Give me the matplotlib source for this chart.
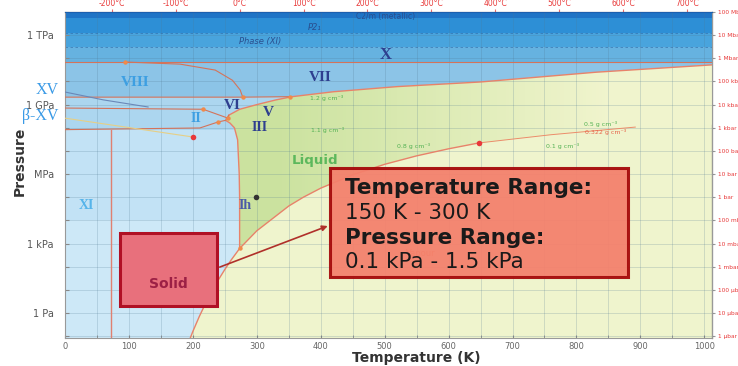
import numpy as np
import matplotlib.pyplot as plt
import matplotlib.colors as mcolors
from matplotlib.patches import Polygon, Rectangle
from matplotlib.ticker import FixedLocator, FuncFormatter, NullLocator

# phase boundaries of water, T in K, P in Pa
sub_T = [190, 200, 210, 220, 230, 240, 250, 260, 273.16]
sub_P = [0.032, 0.16, 0.70, 2.66, 8.97, 27.3, 76.0, 196, 611.7]

vap_T = [273.16, 300, 350, 373.15, 400, 450, 500, 550, 600, 647.1]
vap_P = [611.7, 3.54e3, 4.17e4, 1.013e5, 2.46e5, 9.32e5, 2.64e6, 6.12e6, 1.235e7, 2.206e7]

melt_T = [273.16, 273.1, 272.5, 270, 265, 258, 251.2, 256.2, 273.3, 300, 330, 355,
          420, 520, 650, 830, 1012]
melt_P = [611.7, 1e5, 1e6, 3e7, 1e8, 1.6e8, 2.09e8, 3.5e8, 6.3e8, 1.0e9, 1.6e9, 2.2e9,
          3.6e9, 6.0e9, 9.5e9, 2.5e10, 5.2e10]

# critical isochore (0.322 g/cm3)
iso_T = [647.1, 760, 892]
iso_P = [2.206e7, 5.0e7, 1.07e8]

# solid-solid boundaries
x_T, x_P = [0, 1012], [7e10, 7e10]
viii_vii_T = [94, 180, 235, 262, 274, 278]
viii_vii_P = [6.9e10, 5.6e10, 3.1e10, 1.12e10, 4.3e9, 2.1e9]
vi_viii_T, vi_viii_P = [0, 278, 352], [2.1e9, 2.1e9, 2.2e9]
ii_vi_T, ii_vi_P = [0, 216, 255, 256.2], [7.1e8, 6.3e8, 2.6e8, 3.5e8]
ih_ii_T, ih_ii_P = [0, 211, 240, 251.2], [8.3e7, 9.8e7, 1.8e8, 2.09e8]
meta_T, meta_P = [0, 200], [2.6e8, 4.0e7]
xv_T, xv_P = [0, 60, 130], [3.5e9, 1.6e9, 7.9e8]
xi_T, xi_P = [72, 72], [1e-2, 8.3e7]
top_lines_P = [10**11.5, 10**12.1]

# special points
tp_T = [94, 278, 352, 216, 240, 255, 273.16]
tp_P = [7e10, 2.1e9, 2.2e9, 6.3e8, 1.8e8, 2.6e8, 611.7]
red_T, red_P = [200, 647.1], [4.0e7, 2.206e7]
amb_T, amb_P = [298.15], [101325]

# colour bands of the solid region (Pa)
band_P = [1e4, 10**7.9, 10**9.32, 10**10.84, 10**11.5, 10**12.1, 10**12.75, 1e14]
band_colors = ['#c2e2f5', '#acd6ef', '#8cc4e7', '#66b2e0', '#49a4dd', '#2d8fd6', '#1f74c6']

# axis labels
ylab = {0: '1 Pa', 3: '1 kPa', 6: 'MPa', 9: '1 GPa', 12: '1 TPa'}
degC_ticks = [-200, -100, 0, 100, 200, 300, 400, 500, 600, 700]
bar_ticks = [10.0**k for k in range(-6, 9)]
bar_labels = ['1 µbar', '10 µbar', '100 µbar', '1 mbar', '10 mbar', '100 mbar',
              '1 bar', '10 bar', '100 bar', '1 kbar', '10 kbar', '100 kbar',
              '1 Mbar', '10 Mbar', '100 Mbar']

# highlighted ranges
solid_box_T, solid_box_P = (86, 238), (10**0.30, 10**3.45)
info_box_T, info_box_P = (415, 880), (10**1.56, 10**6.26)

fig = plt.figure(figsize=(7.38, 3.66), dpi=100)
ax = fig.add_axes([65/738, 28/366, 647/738, 326/366])
ax.set_yscale('log')
ax.set_xlim(0, 1012)
ax.set_ylim(10**-1.08, 1e13)
ax.set_facecolor('#eff4cd')

# solid region with pressure bands
solid_T = [-50] + sub_T + melt_T[1:] + [1100, 1100, -50]
solid_P = [1e-3] + sub_P + melt_P[1:] + [6e10, 1e14, 1e14]
solid = Polygon(np.column_stack([solid_T, solid_P]), closed=True,
                fc='#cde8f7', ec='none', zorder=1)
ax.add_patch(solid)
for lo, hi, c in zip(band_P[:-1], band_P[1:], band_colors):
    s = ax.axhspan(lo, hi, color=c, lw=0, zorder=1)
    s.set_clip_path(solid)

# liquid / supercritical region, shaded green -> pale
liq_T = vap_T + iso_T[1:] + [1100, 1100] + melt_T[::-1]
liq_P = vap_P + iso_P[1:] + [1.6e8, 6e10] + melt_P[::-1]
liquid = Polygon(np.column_stack([liq_T, liq_P]), closed=True, fc='none', ec='none', zorder=1)
ax.add_patch(liquid)
c_lo = np.array(mcolors.to_rgb('#cbe29f'))
c_hi = np.array(mcolors.to_rgb('#f0f4cd'))
for t in np.arange(230, 1100, 5):
    f = np.clip((t - 330) / 520, 0, 1)
    s = ax.axvspan(t, t + 5.5, color=c_lo + (c_hi - c_lo) * f, lw=0, zorder=1)
    s.set_clip_path(liquid)

# grid
ax.set_xticks(np.arange(0, 1001, 100))
ax.set_xticks(np.arange(50, 1001, 100), minor=True)
ax.yaxis.set_major_locator(FixedLocator(10.0 ** np.arange(-1, 14)))
ax.yaxis.set_minor_locator(NullLocator())
ax.yaxis.set_major_formatter(FuncFormatter(lambda v, p: ylab.get(int(round(np.log10(v))), '')))
ax.grid(True, which='both', axis='x', color='#4f7891', alpha=0.25, lw=0.6)
ax.grid(True, which='major', axis='y', color='#4f7891', alpha=0.25, lw=0.6)
ax.tick_params(axis='x', which='both', direction='in', length=2, labelsize=6,
               labelcolor='#666666', color='#888888', pad=3)
ax.tick_params(axis='y', direction='in', length=3, labelsize=7, labelcolor='#555555',
               color='#888888', pad=8)
for sp in ax.spines.values():
    sp.set_color('#999999')
    sp.set_linewidth(0.8)
ax.spines['top'].set_color('#1c5fae')

# boundaries
ln = dict(color='#e8826a', lw=1.0, zorder=3)
ax.plot(sub_T, sub_P, **ln)
ax.plot(vap_T, vap_P, **ln)
ax.plot(melt_T, melt_P, **ln)
ax.plot(iso_T, iso_P, color='#ec8c6a', lw=0.7, zorder=3)
ib = dict(color='#d4735a', lw=0.8, zorder=3)
for tt, pp in [(x_T, x_P), (viii_vii_T, viii_vii_P), (vi_viii_T, vi_viii_P),
               (ii_vi_T, ii_vi_P), (ih_ii_T, ih_ii_P)]:
    ax.plot(tt, pp, **ib)
ax.plot(xi_T, xi_P, color='#e08070', lw=1.0, zorder=3)
ax.plot(meta_T, meta_P, color='#e6cf86', lw=0.8, zorder=3)
ax.plot(xv_T, xv_P, color='#6a88b8', lw=0.8, zorder=3)
for p in top_lines_P:
    ax.axhline(p, color='#2a5f9e', lw=0.6, ls=(0, (3, 3)), alpha=0.6, zorder=2)

ax.scatter(tp_T, tp_P, s=10, color='#f08a4a', zorder=4, lw=0)
ax.scatter(red_T, red_P, s=16, color='#e8383a', zorder=4, lw=0)
ax.scatter(amb_T, amb_P, s=16, color='#333333', zorder=4, lw=0)

# phase labels
serif = 'Liberation Serif'
navy, light = '#2e3f8f', '#3d9fe2'
labels = [('X', 501, 10**11.14, navy, 12), ('VII', 399, 10**10.19, navy, 11),
          ('VIII', 110, 10**9.97, light, 11), ('VI', 261, 10**8.98, navy, 11),
          ('V', 318, 10**8.68, navy, 11), ('II', 205, 10**8.42, light, 10),
          ('III', 305, 10**7.99, navy, 10), ('XI', 33, 10**4.66, '#56b4ea', 10),
          ('Ih', 282, 10**4.66, '#4a5aa8', 10)]
for s, t, p, c, fs in labels:
    ax.text(t, p, s, color=c, fontsize=fs, family=serif, fontweight='bold',
            ha='center', va='center', zorder=5)
ax.text(-10, 10**9.62, 'XV', color='#3a9ae6', fontsize=11.5, family=serif,
        ha='right', va='center', clip_on=False)
ax.text(-10, 10**8.5, 'β-XV', color='#3a9ae6', fontsize=11.5, family=serif,
        ha='right', va='center', clip_on=False)
ax.text(391, 10**6.6, 'Liquid', color='#5cb85c', fontsize=9.7, fontweight='bold',
        ha='center', va='center', zorder=5)
ax.text(501, 10**12.82, 'C2/m (metallic)', color='#2a4f8f', fontsize=5.5,
        ha='center', va='center', zorder=5)
ax.text(391, 10**12.35, 'P2₁', color='#2a4f8f', fontsize=6, style='italic',
        ha='center', va='center', zorder=5)
ax.text(305, 10**11.74, 'Phase (XI)', color='#2a4f8f', fontsize=6, style='italic',
        ha='center', va='center', zorder=5)

dens = [('1.2 g cm⁻³', 410, 10**9.28, '#53b153'), ('1.1 g cm⁻³', 410, 10**7.9, '#53b153'),
        ('0.8 g cm⁻³', 545, 10**7.21, '#53b153'), ('0.1 g cm⁻³', 779, 10**7.21, '#53b153'),
        ('0.5 g cm⁻³', 837, 10**8.16, '#53b153'), ('0.322 g cm⁻³', 845, 10**7.81, '#e8634a')]
for s, t, p, c in dens:
    ax.text(t, p, s, color=c, fontsize=4.5, ha='center', va='center', zorder=5)
ax.text(556, 10**2.59, 'Vapour', color='#e8824a', fontsize=6, ha='center', va='center', zorder=5)

# top (deg C) and right (bar) axes
top = ax.secondary_xaxis('top', functions=(lambda t: t - 273.15, lambda c: c + 273.15))
top.set_xticks(degC_ticks)
top.set_xticklabels([f'{c}°C' for c in degC_ticks])
top.tick_params(labelsize=5.5, labelcolor='#e83a3a', color='#e86a6a', length=2, pad=1)
right = ax.secondary_yaxis('right', functions=(lambda p: np.asarray(p) / 1e5,
                                               lambda b: np.asarray(b) * 1e5))
right.yaxis.set_major_locator(FixedLocator(bar_ticks))
right.yaxis.set_minor_locator(NullLocator())
right.set_yticklabels(bar_labels)
right.tick_params(labelsize=4.2, labelcolor='#e83a3a', color='#999999', length=2, pad=2)

# highlight boxes
ax.add_patch(Rectangle((solid_box_T[0], solid_box_P[0]), solid_box_T[1] - solid_box_T[0],
                       solid_box_P[1] - solid_box_P[0], fc='#e8707c', ec='#b01025',
                       lw=2.2, zorder=6))
ax.text(np.mean(solid_box_T), 10**1.25, 'Solid', color='#9c2045', fontsize=10,
        fontweight='bold', ha='center', va='center', zorder=7)
ax.add_patch(Rectangle((info_box_T[0], info_box_P[0]), info_box_T[1] - info_box_T[0],
                       info_box_P[1] - info_box_P[0], fc='#f4806c', ec='#a50a0a',
                       lw=2.2, alpha=0.94, zorder=6))
ax.annotate('', xy=(info_box_T[0], 10**3.8), xytext=(solid_box_T[1], 10**1.94),
            arrowprops=dict(arrowstyle='-|>', color='#b0302a', lw=1.2, mutation_scale=8),
            zorder=6)
box_lines = [('Temperature Range:', 'bold', 10**5.42), ('150 K - 300 K', 'normal', 10**4.3),
             ('Pressure Range:', 'bold', 10**3.25), ('0.1 kPa - 1.5 kPa', 'normal', 10**2.22)]
for s, w, p in box_lines:
    ax.text(info_box_T[0] + 23, p, s, fontsize=15.5, fontweight=w, color='#1a1a1a',
            ha='left', va='center', zorder=7)

fig.text(20/738, 1 - 161/366, 'Pressure', rotation=90, fontsize=10, fontweight='bold',
         color='#333333', ha='center', va='center')
fig.text(416/738, 1 - 358/366, 'Temperature (K)', fontsize=10, fontweight='bold',
         color='#333333', ha='center', va='center')

fig.savefig('out.png', dpi=100)
